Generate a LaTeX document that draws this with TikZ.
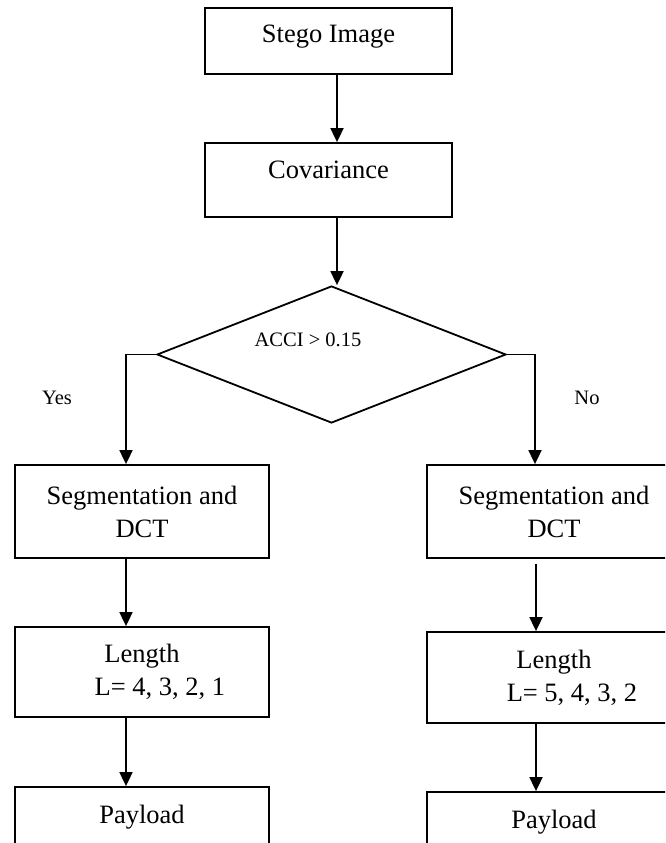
\documentclass[tikz,border=0pt]{standalone}
\usepackage{fontspec}
\setmainfont{Liberation Serif}
\usetikzlibrary{shapes.geometric,arrows.meta}
\begin{document}
\begin{tikzpicture}[
        x=1pt, y=-1pt,
        box/.style={
            rectangle,
            draw=black,
            line width=1.8pt,
            inner sep=0pt,
            align=center,
            font=\fontsize{26.5}{33}\selectfont
        },
        decision/.style={
            diamond,
            draw=black,
            line width=1.8pt,
            minimum width=349pt,
            minimum height=137pt,
            inner sep=0pt
        },
        tag/.style={
            font=\fontsize{20.5}{24}\selectfont
        },
        arr/.style={
            line width=1.8pt,
            -{Triangle[length=14pt,width=13pt]}
        }
    ]

    \useasboundingbox (0,0) rectangle (665,843);
    \clip (0,0) rectangle (665,843);

    % Cajas
    \node[box, minimum width=247pt, minimum height=66pt, text depth=14pt] (stego) at (328.5,41) {Stego Image};
    \node[box, minimum width=247pt, minimum height=74pt, text depth=20pt] (cov) at (328.5,180) {Covariance};
    \node[decision, label={[tag, xshift=-23.5pt, yshift=14.5pt]center:ACCI > 0.15}] (test) at (331.5,354.5) {};

    \node[tag] (yes) at (57,398) {Yes};
    \node[tag] (no)  at (587,398) {No};

    \node[box, minimum width=254pt, minimum height=93pt] (lseg) at (142,511.5) {Segmentation and\\DCT};
    \node[box, minimum width=254pt, minimum height=90pt] (llen) at (142,672) {Length\\\hspace*{36pt}L= 4, 3, 2, 1};
    \node[box, minimum width=254pt, minimum height=60pt] (lpay) at (142,817) {Payload};

    \node[box, minimum width=254pt, minimum height=93pt] (rseg) at (554,511.5) {Segmentation and\\DCT};
    \node[box, minimum width=254pt, minimum height=91pt] (rlen) at (554,677.5) {Length\\\hspace*{36pt}L= 5, 4, 3, 2};
    \node[box, minimum width=254pt, minimum height=60pt] (rpay) at (554,822) {Payload};

    % Flechas
    \draw[arr] ([xshift=8.5pt]stego.south) -- ([xshift=8.5pt]cov.north);
    \draw[arr] ([xshift=8.5pt]cov.south) -- ([xshift=8.5pt]cov.south |- test.north);
    \draw[arr] (test.west) -| ([xshift=-16pt]lseg.north);
    \draw[arr] (test.east) -| ([xshift=-19pt]rseg.north);
    \draw[arr] ([xshift=-16pt]lseg.south) -- ([xshift=-16pt]llen.north);
    \draw[arr] ([xshift=-16pt]llen.south) -- ([xshift=-16pt]lpay.north);
    \draw[arr] ([xshift=-18pt,yshift=-5pt]rseg.south) -- ([xshift=-18pt]rlen.north);
    \draw[arr] ([xshift=-18pt]rlen.south) -- ([xshift=-18pt]rpay.north);

\end{tikzpicture}
\end{document}
